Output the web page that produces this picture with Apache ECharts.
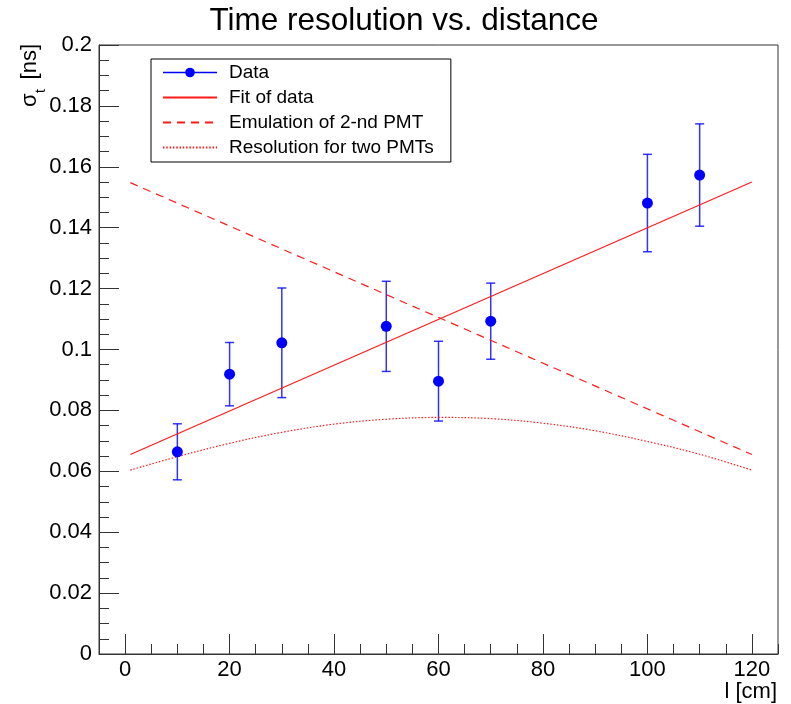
<!DOCTYPE html>
<html><head><meta charset="utf-8">
<script src="https://cdn.jsdelivr.net/npm/echarts@6/dist/echarts.min.js"></script>
<style>html,body{margin:0;padding:0;background:#fff}#c{width:791px;height:704px}</style>
</head><body><div id="c"></div>
<script>
// ---- data ----
const xData = [10, 20, 30, 50, 60, 70, 100, 110];
const yData = [0.0664, 0.0919, 0.1022, 0.1076, 0.0896, 0.1093, 0.1481, 0.1573];
const yErr  = [0.0092, 0.0104, 0.0180, 0.0148, 0.0131, 0.0125, 0.0160, 0.0168];
const fitX  = [1, 120];
const fitY  = [0.0655, 0.1550];
const emuY  = [0.1548, 0.0655];
const resX  = [1, 10, 20, 30, 40, 50, 60, 70, 80, 90, 100, 110, 120];
const resY  = [0.0604, 0.0648, 0.0692, 0.0728, 0.0755, 0.0771, 0.0777, 0.0773, 0.0758, 0.0733, 0.0698, 0.0656, 0.0604];
const xTicks = [0, 20, 40, 60, 80, 100, 120];
const names = ['Data', 'Fit of data', 'Emulation of 2-nd PMT', 'Resolution for two PMTs'];
const titleText = 'Time resolution vs. distance';
const xName = 'l [cm]';

const FF = '"Liberation Sans", Arial, Helvetica, sans-serif';
const AX = '#333';
const RED = '#ff1a1a';
const BLUE = '#0000ff';

const pts = xData.map((x, i) => [x, yData[i]]);
const bars = xData.map((x, i) => [x, yData[i] - yErr[i], yData[i] + yErr[i]]);
const fitPts = fitX.map((x, i) => [x, fitY[i]]);
const emuPts = fitX.map((x, i) => [x, emuY[i]]);
const resPts = resX.map((x, i) => [x, resY[i]]);

const chart = echarts.init(document.getElementById('c'), null, {renderer: 'canvas'});
chart.setOption({
  animation: false,
  backgroundColor: '#fff',
  title: {
    text: titleText, left: 399, top: 0, textAlign: 'center',
    textStyle: {fontSize: 31.5, fontWeight: 'normal', color: '#000', fontFamily: FF}
  },
  grid: {left: 99, right: 13, top: 45, bottom: 50, show: true, borderColor: AX, borderWidth: 1, backgroundColor: 'transparent'},
  legend: {
    left: 151, top: 59, orient: 'vertical', itemWidth: 54, itemHeight: 12, itemGap: 0,
    padding: [1, 17, 2, 11], borderColor: '#000', borderWidth: 1, borderRadius: 0,
    textStyle: {fontSize: 19, fontFamily: FF, color: '#000', lineHeight: 25, padding: [0, 0, 0, 7]},
    data: [
      {name: names[0], lineStyle: {opacity: 1, width: 1.5, color: BLUE}},
      {name: names[1], itemStyle: {opacity: 0}},
      {name: names[2], itemStyle: {opacity: 0}},
      {name: names[3], itemStyle: {opacity: 0}}
    ]
  },
  xAxis: [
    {type: 'value', min: -5, max: 125, interval: 5, position: 'bottom',
     axisLine: {show: true, onZero: false, lineStyle: {color: AX}},
     axisTick: {show: true, inside: true, length: 10, lineStyle: {color: AX}},
     axisLabel: {show: false}, splitLine: {show: false}},
    {type: 'value', min: -5, max: 125, position: 'bottom',
     axisLine: {show: false, onZero: false},
     axisTick: {show: true, inside: true, length: 20, customValues: xTicks, lineStyle: {color: AX}},
     axisLabel: {show: true, customValues: xTicks, fontSize: 22, fontFamily: FF, color: '#000', margin: 5},
     splitLine: {show: false}}
  ],
  yAxis: {
    type: 'value', min: 0, max: 0.2, interval: 0.02,
    axisLine: {show: true, onZero: false, lineStyle: {color: AX}},
    axisTick: {show: true, inside: true, length: 20, lineStyle: {color: AX}},
    minorTick: {show: true, splitNumber: 4, length: 10, lineStyle: {color: AX}},
    axisLabel: {fontSize: 22, fontFamily: FF, color: '#000', margin: 7},
    splitLine: {show: false}, minorSplitLine: {show: false}
  },
  graphic: [
    {type: 'text', x: 30, y: 107, rotation: Math.PI / 2,
     style: {text: 'σ', font: '22px ' + FF, fill: '#000', textAlign: 'left', textVerticalAlign: 'middle', align: 'left', verticalAlign: 'middle'}},
    {type: 'text', x: 41, y: 93, rotation: Math.PI / 2,
     style: {text: 't', font: '14px ' + FF, fill: '#000', textAlign: 'left', textVerticalAlign: 'middle', align: 'left', verticalAlign: 'middle'}},
    {type: 'text', x: 30, y: 44, rotation: Math.PI / 2,
     style: {text: '[ns]', font: '22px ' + FF, fill: '#000', textAlign: 'right', textVerticalAlign: 'middle', align: 'right', verticalAlign: 'middle'}},
    {type: 'text', x: 777, y: 692,
     style: {text: xName, font: '22px ' + FF, fill: '#000', textAlign: 'right', textVerticalAlign: 'middle', align: 'right', verticalAlign: 'middle'}}
  ],
  series: [
    {name: 'errbars', type: 'custom', xAxisIndex: 0, z: 2, data: bars, encode: {x: 0, y: [1, 2]},
     renderItem: function (params, api) {
       const x = api.value(0);
       const lo = api.coord([x, api.value(1)]);
       const hi = api.coord([x, api.value(2)]);
       const hw = 4.5;
       const st = {stroke: BLUE, lineWidth: 1.5, fill: null, opacity: 0.8};
       return {type: 'group', children: [
         {type: 'line', shape: {x1: lo[0], y1: lo[1], x2: hi[0], y2: hi[1]}, style: st},
         {type: 'line', shape: {x1: lo[0] - hw, y1: lo[1], x2: lo[0] + hw, y2: lo[1]}, style: st},
         {type: 'line', shape: {x1: hi[0] - hw, y1: hi[1], x2: hi[0] + hw, y2: hi[1]}, style: st}
       ]};
     }},
    {name: names[0], type: 'line', xAxisIndex: 0, z: 4, data: pts, symbol: 'circle', symbolSize: 11, showSymbol: true,
     itemStyle: {color: BLUE}, lineStyle: {opacity: 0, width: 1.5, color: BLUE}},
    {name: names[1], type: 'line', xAxisIndex: 0, z: 3, data: fitPts, symbol: 'none',
     itemStyle: {color: RED}, lineStyle: {color: RED, width: 1.2}},
    {name: names[2], type: 'line', xAxisIndex: 0, z: 3, data: emuPts, symbol: 'none',
     itemStyle: {color: RED}, lineStyle: {color: RED, width: 1.2, type: [8, 6]}},
    {name: names[3], type: 'line', xAxisIndex: 0, z: 3, data: resPts, symbol: 'none', smooth: 0.35,
     itemStyle: {color: RED}, lineStyle: {color: RED, width: 1.2, type: [1.5, 1.8]}}
  ]
});
</script>
</body></html>
